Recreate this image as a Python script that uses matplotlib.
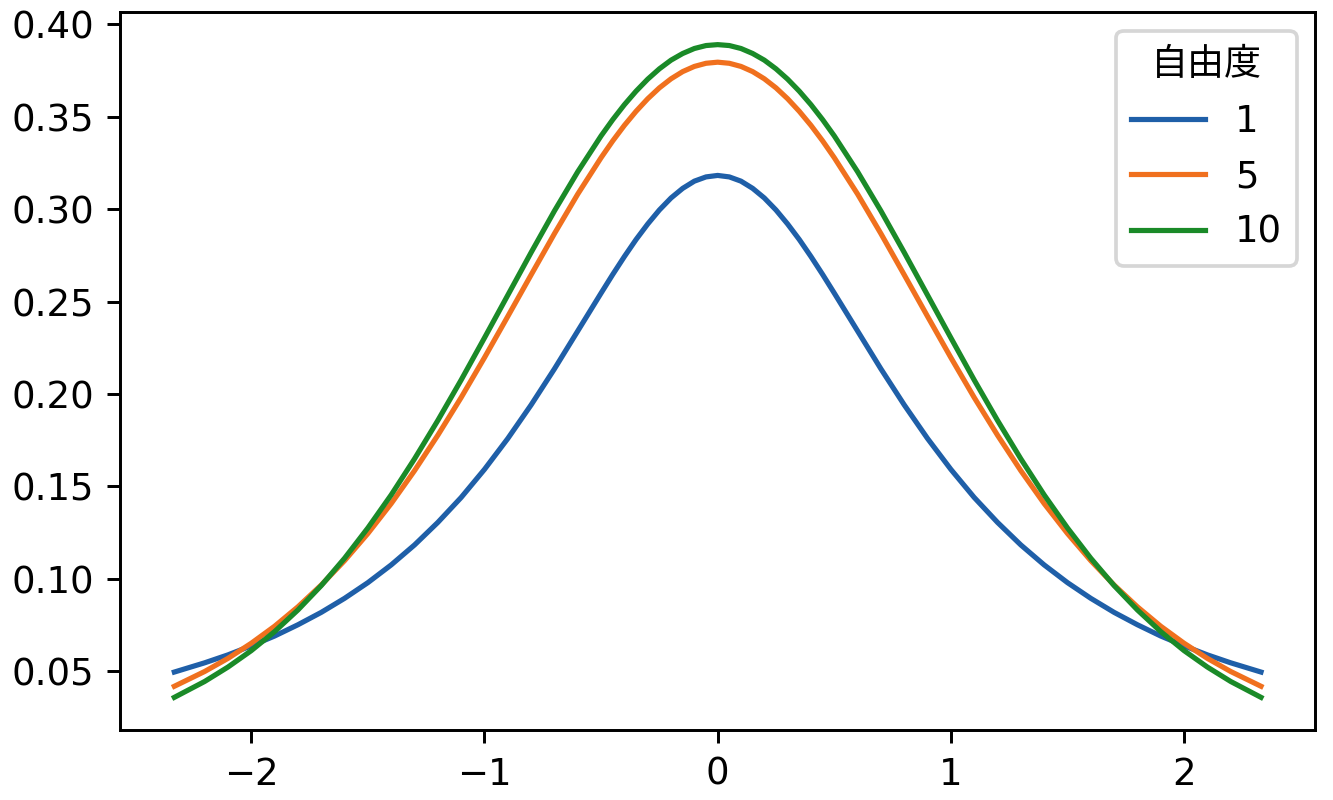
import matplotlib
matplotlib.use('Agg')
import matplotlib.pyplot as plt

plt.rcParams['font.family'] = ['DejaVu Sans', 'Noto Sans CJK JP']

# x 座標（左右対称）
x = [-2.33, -2.2, -2.1, -2.0, -1.9, -1.8, -1.7, -1.6, -1.5, -1.4, -1.3, -1.2,
     -1.1, -1.0, -0.9, -0.8, -0.7, -0.6, -0.5, -0.45, -0.4, -0.35, -0.3, -0.25,
     -0.2, -0.15, -0.1, -0.05, 0.0,
     0.05, 0.1, 0.15, 0.2, 0.25, 0.3, 0.35, 0.4, 0.45, 0.5, 0.6, 0.7, 0.8, 0.9,
     1.0, 1.1, 1.2, 1.3, 1.4, 1.5, 1.6, 1.7, 1.8, 1.9, 2.0, 2.1, 2.2, 2.33]

# 自由度 1
y_df1 = [0.0495, 0.0545, 0.0588, 0.0637, 0.0690, 0.0751, 0.0818, 0.0894, 0.0979,
         0.1075, 0.1183, 0.1305, 0.1440, 0.1592, 0.1759, 0.1941, 0.2136, 0.2341,
         0.2546, 0.2647, 0.2744, 0.2836, 0.2920, 0.2996, 0.3061, 0.3113, 0.3152,
         0.3175, 0.3183,
         0.3175, 0.3152, 0.3113, 0.3061, 0.2996, 0.2920, 0.2836, 0.2744, 0.2647,
         0.2546, 0.2341, 0.2136, 0.1941, 0.1759, 0.1592, 0.1440, 0.1305, 0.1183,
         0.1075, 0.0979, 0.0894, 0.0818, 0.0751, 0.0690, 0.0637, 0.0588, 0.0545,
         0.0495]

# 自由度 5
y_df5 = [0.0418, 0.0498, 0.0569, 0.0651, 0.0743, 0.0848, 0.0966, 0.1098, 0.1245,
         0.1407, 0.1585, 0.1777, 0.1981, 0.2197, 0.2420, 0.2645, 0.2868, 0.3082,
         0.3279, 0.3370, 0.3454, 0.3530, 0.3598, 0.3657, 0.3706, 0.3745, 0.3773,
         0.3790, 0.3796,
         0.3790, 0.3773, 0.3745, 0.3706, 0.3657, 0.3598, 0.3530, 0.3454, 0.3370,
         0.3279, 0.3082, 0.2868, 0.2645, 0.2420, 0.2197, 0.1981, 0.1777, 0.1585,
         0.1407, 0.1245, 0.1098, 0.0966, 0.0848, 0.0743, 0.0651, 0.0569, 0.0498,
         0.0418]

# 自由度 10
y_df10 = [0.0358, 0.0444, 0.0522, 0.0611, 0.0714, 0.0831, 0.0963, 0.1111, 0.1275,
          0.1454, 0.1649, 0.1857, 0.2076, 0.2304, 0.2535, 0.2766, 0.2991, 0.3203,
          0.3397, 0.3485, 0.3566, 0.3639, 0.3704, 0.3760, 0.3807, 0.3843, 0.3870,
          0.3886, 0.3891,
          0.3886, 0.3870, 0.3843, 0.3807, 0.3760, 0.3704, 0.3639, 0.3566, 0.3485,
          0.3397, 0.3203, 0.2991, 0.2766, 0.2535, 0.2304, 0.2076, 0.1857, 0.1649,
          0.1454, 0.1275, 0.1111, 0.0963, 0.0831, 0.0714, 0.0611, 0.0522, 0.0444,
          0.0358]

labels = ['1', '5', '10']
colors = ['#1f5fa8', '#f0701e', '#1a8a28']

fig, ax = plt.subplots(figsize=(5.0, 3.0), dpi=266.67)
for y, lab, c in zip([y_df1, y_df5, y_df10], labels, colors):
    ax.plot(x, y, color=c, linewidth=1.4, label=lab)

ax.set_yticks([0.05, 0.10, 0.15, 0.20, 0.25, 0.30, 0.35, 0.40])
ax.set_xticks([-2, -1, 0, 1, 2])
leg = ax.legend(title='自由度', loc='upper right')
leg.get_title().set_family(['Noto Sans CJK JP', 'DejaVu Sans'])

fig.subplots_adjust(left=0.09, right=0.9865, top=0.985, bottom=0.0875)
fig.savefig('out.png')
